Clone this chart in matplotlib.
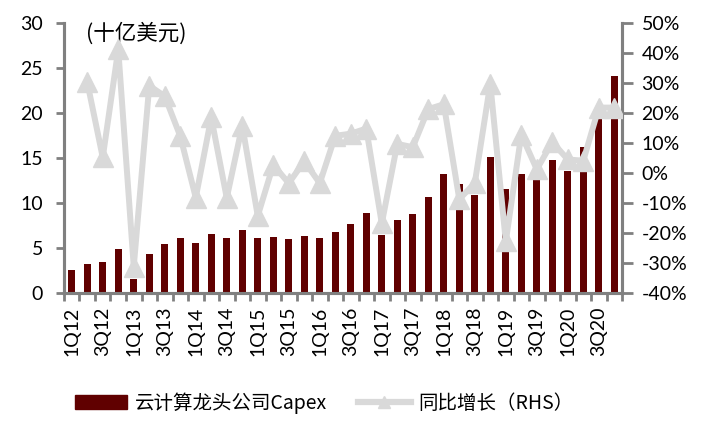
import matplotlib
matplotlib.use("Agg")
import matplotlib.pyplot as plt
from matplotlib.lines import Line2D
from matplotlib.patches import Patch
import numpy as np

plt.rcParams['font.family'] = ['Lato', 'Noto Sans CJK SC', 'DejaVu Sans']

quarters = [f"{q}Q{y}" for y in range(12, 21) for q in range(1, 5)]
capex = [2.5, 3.2, 3.4, 4.9, 1.5, 4.3, 5.4, 6.1, 5.6, 6.6, 6.1, 7.0,
         6.1, 6.2, 6.0, 6.3, 6.1, 6.8, 7.7, 8.85, 6.4, 8.1, 8.8, 10.7,
         13.2, 12.1, 10.85, 15.15, 11.6, 13.2, 12.5, 14.8, 13.6, 16.2, 19.4, 24.15]
# YoY growth (%), starts at 2Q12
yoy = [30.3, 5.2, 41.2, -31.2, 29.1, 25.6, 12.3, -8.2, 18.5, -8.3, 15.8,
       -14.3, 2.7, -3.4, 3.9, -3.4, 12.4, 13.1, 14.8, -16.8, 9.7, 8.6, 21.3,
       22.9, -8.7, -3.4, 29.8, -22.8, 12.8, 1.2, 10.3, 4.5, 4.1, 21.8, 21.8]
left_ticks = [0, 5, 10, 15, 20, 25, 30]
right_ticks = [-40, -30, -20, -10, 0, 10, 20, 30, 40, 50]

bar_color = "#600000"
line_color = "#D9D9D9"
spine_color = "#808080"

fig = plt.figure(figsize=(7.15, 4.22), dpi=100)
ax = fig.add_axes([0.0895, 0.3057, 0.7805, 0.6398])
ax2 = ax.twinx()

x = np.arange(len(quarters))
ax.bar(x, capex, width=0.45, color=bar_color, zorder=2)
ax.set_xlim(-0.5, len(quarters) - 0.5)
ax.set_ylim(0, 30)
ax.set_yticks(left_ticks)

ax2.plot(x[1:], yoy, color=line_color, lw=4.3, marker='^', markersize=15,
         markerfacecolor=line_color, markeredgecolor=line_color, zorder=3)
ax2.set_ylim(-40, 50)
ax2.set_yticks(right_ticks)
ax2.set_yticklabels([f"{t}%" for t in right_ticks])

ax.set_xticks(x[::2])
ax.set_xticklabels(quarters[::2], rotation=90)
ax.set_xticks(np.arange(-0.5, len(quarters)), minor=True)
ax.tick_params(axis='x', which='major', length=0, labelsize=14, pad=10)
ax.tick_params(axis='x', which='minor', length=6, width=2, color=spine_color)
ax.tick_params(axis='y', length=6, width=2, color=spine_color, labelsize=14, pad=9)
ax2.tick_params(axis='y', length=8, width=2, color=spine_color, labelsize=14, pad=6)

for a in (ax, ax2):
    a.spines['top'].set_visible(False)
    for s in ['left', 'right', 'bottom']:
        a.spines[s].set_color(spine_color)
        a.spines[s].set_linewidth(2.2)

ax.set_zorder(ax2.get_zorder() - 1)
ax.patch.set_visible(False)
ax2.patch.set_visible(False)

ax.text(0.04, 0.96, "(十亿美元)", transform=ax.transAxes, fontsize=15.5,
        family=['Noto Sans CJK SC'], va='center', ha='left')

handles = [Patch(facecolor=bar_color, edgecolor=bar_color),
           Line2D([0], [0], color=line_color, lw=4.5, marker='^', markersize=8,
                  markerfacecolor=line_color, markeredgecolor=line_color)]
labels = ["云计算龙头公司Capex", "同比增长（RHS）"]
fig.legend(handles, labels, loc='center left', bbox_to_anchor=(0.08, 0.045),
           ncol=2, frameon=False, handlelength=2.7, handleheight=0.75,
           columnspacing=1.6, handletextpad=0.4,
           prop={'family': ['Noto Sans CJK SC'], 'size': 14})

fig.savefig("out.png", dpi=100)
